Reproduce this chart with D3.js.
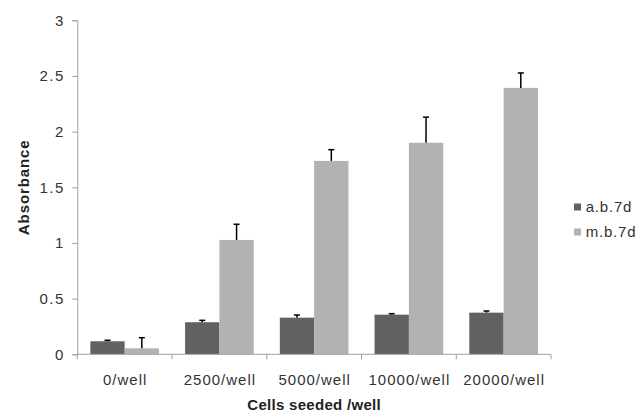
<!DOCTYPE html>
<html><head><meta charset="utf-8">
<script src="https://cdn.jsdelivr.net/npm/d3@7"></script>
<style>body{margin:0;background:#fff}svg{display:block}</style>
</head><body>
<svg id="chart" width="639" height="414"></svg>
<script>
const categories = ["0/well","2500/well","5000/well","10000/well","20000/well"];
const seriesNames = ["a.b.7d","m.b.7d"];
const abValues = [0.117,0.288,0.329,0.356,0.374];
const abErrors = [0.009,0.017,0.024,0.009,0.015];
const mbValues = [0.054,1.027,1.737,1.900,2.393];
const mbErrors = [0.095,0.141,0.101,0.230,0.134];
const yTicks = [0,0.5,1,1.5,2,2.5,3];
const colors = ["#616161","#b2b2b2"];

const svg = d3.select("#chart");
const font = "Liberation Sans, Arial, sans-serif";
const mLeft = 77.3, mRight = 551, mTop = 20.3, mBottom = 354.3;

const x = d3.scaleBand().domain(categories).range([mLeft,mRight]).paddingInner(0).paddingOuter(0);
const inner = d3.scaleBand().domain(seriesNames).range([0,x.bandwidth()]).paddingInner(0).paddingOuter(0.38);
const y = d3.scaleLinear().domain([0,3]).range([mBottom,mTop]);

const data = categories.map((c,i)=>[
  {cat:c,s:seriesNames[0],v:abValues[i],e:abErrors[i],col:colors[0]},
  {cat:c,s:seriesNames[1],v:mbValues[i],e:mbErrors[i],col:colors[1]}
]).flat();

// bars
svg.append("g").selectAll("rect").data(data).join("rect")
  .attr("x",d=>x(d.cat)+inner(d.s))
  .attr("width",inner.bandwidth())
  .attr("y",d=>y(d.v))
  .attr("height",d=>mBottom-y(d.v))
  .attr("fill",d=>d.col);

// error bars
const eg = svg.append("g").attr("stroke","#000").attr("stroke-width",1.5);
data.forEach(d=>{
  const cx = x(d.cat)+inner(d.s)+inner.bandwidth()/2;
  eg.append("line").attr("x1",cx).attr("x2",cx).attr("y1",y(d.v)).attr("y2",y(d.v+d.e));
  eg.append("line").attr("x1",cx-3).attr("x2",cx+3).attr("y1",y(d.v+d.e)).attr("y2",y(d.v+d.e));
});

// y axis
const yAxis = svg.append("g").attr("transform",`translate(${mLeft},0)`)
  .call(d3.axisLeft(y).tickValues(yTicks).tickSize(5).tickPadding(7.5).tickFormat(d3.format("")));
yAxis.select(".domain").attr("stroke","#a0a0a0");
yAxis.selectAll(".tick line").attr("stroke","#a0a0a0");
yAxis.selectAll("text").attr("font-family",font).attr("font-size",15).attr("letter-spacing","1.5px").attr("fill","#333");

// x axis
const xTickScale = d3.scaleLinear().domain([0,categories.length]).range([mLeft,mRight]);
const xAxis = svg.append("g").attr("transform",`translate(0,${mBottom})`);
xAxis.append("line").attr("x1",mLeft).attr("x2",mRight).attr("stroke","#a0a0a0");
d3.range(categories.length+1).forEach(i=>{
  xAxis.append("line").attr("x1",xTickScale(i)).attr("x2",xTickScale(i)).attr("y1",0).attr("y2",5).attr("stroke","#a0a0a0");
});
xAxis.selectAll("text.cat").data(categories).join("text").attr("class","cat")
  .attr("x",d=>x(d)+x.bandwidth()/2+0.5).attr("y",30.7)
  .attr("text-anchor","middle").attr("font-family",font).attr("font-size",15).attr("letter-spacing","1px").attr("fill","#333")
  .text(d=>d);

// axis titles
svg.append("text").attr("x",(mLeft+mRight)/2).attr("y",410).attr("text-anchor","middle")
  .attr("font-family",font).attr("font-size",15).attr("letter-spacing","0.3px").attr("font-weight","bold").attr("fill","#222")
  .text("Cells seeded /well");
svg.append("text").attr("transform",`translate(29,${(mTop+mBottom)/2}) rotate(-90)`).attr("text-anchor","middle")
  .attr("font-family",font).attr("font-size",15).attr("letter-spacing","0.9px").attr("font-weight","bold").attr("fill","#222")
  .text("Absorbance");

// legend
const lg = svg.append("g");
seriesNames.forEach((s,i)=>{
  const yy = 207 + i*25;
  lg.append("rect").attr("x",574).attr("y",yy-3.5).attr("width",7).attr("height",7).attr("fill",colors[i]);
  lg.append("text").attr("x",585.7).attr("y",yy).attr("dy","0.35em")
    .attr("font-family",font).attr("font-size",15).attr("letter-spacing","0.8px").attr("fill","#333").text(s);
});
</script>
</body></html>
